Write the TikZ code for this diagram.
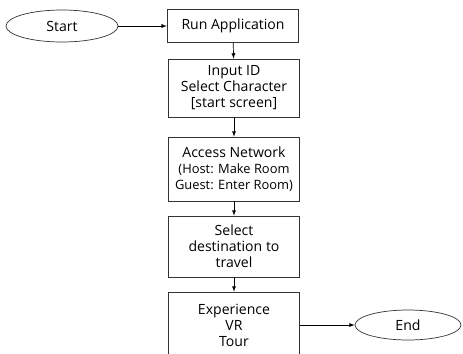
\documentclass[tikz,border=0pt]{standalone}
\usepackage{fontspec}
\setmainfont{Open Sans}
\usetikzlibrary{shapes.geometric}

\tikzstyle{stagebox} = [draw=black!80,line width=0.6pt,align=center,inner sep=0pt,minimum width=3.95cm,font=\fontsize{12}{13.6}\selectfont]
\tikzstyle{terminal} = [ellipse,draw=black!80,line width=0.6pt,inner sep=0pt,font=\fontsize{12}{13.6}\selectfont]
\tikzstyle{arrowdecorate}=[->,>=latex,line width=0.6pt]
\newcommand{\hostline}[1]{{\fontsize{11}{13}\selectfont #1}}

\begin{document}
\begin{tikzpicture}[x=0.03cm,y=-0.03cm]
    \useasboundingbox (0,0) rectangle (463,353);
    \clip (0,0) rectangle (463,353);
    %% nodes
    \foreach \nodename/\x/\y/\kind/\w/\h/\label in {
      start/62/26/terminal/3.36/0.96/Start,
      run/233/26/stagebox/3.95/0.99/{Run Application},
      input/234/88/stagebox/3.95/1.74/{Input ID\\Select Character\\{[start screen]}},
      access/234/169/stagebox/3.95/1.92/{Access Network\\\hostline{(Host: Make Room}\\\hostline{Guest: Enter Room)}},
      select/234/246.5/stagebox/3.95/1.83/{Select\\destination to\\travel},
      tour/234/325/stagebox/3.95/1.98/{Experience\\VR\\Tour},
      end/408/325/terminal/3.18/0.9/End}
    {
      \node[\kind, minimum width=\w cm, minimum height=\h cm] (\nodename) at (\x,\y) {\label};
    }
    %% arrows
    \path
    \foreach \startnode/\endnode in {
      start/run, run/input, input/access, access/select, select/tour, tour/end}
    {
      (\startnode) edge[arrowdecorate] (\endnode)
    };
\end{tikzpicture}
\end{document}
